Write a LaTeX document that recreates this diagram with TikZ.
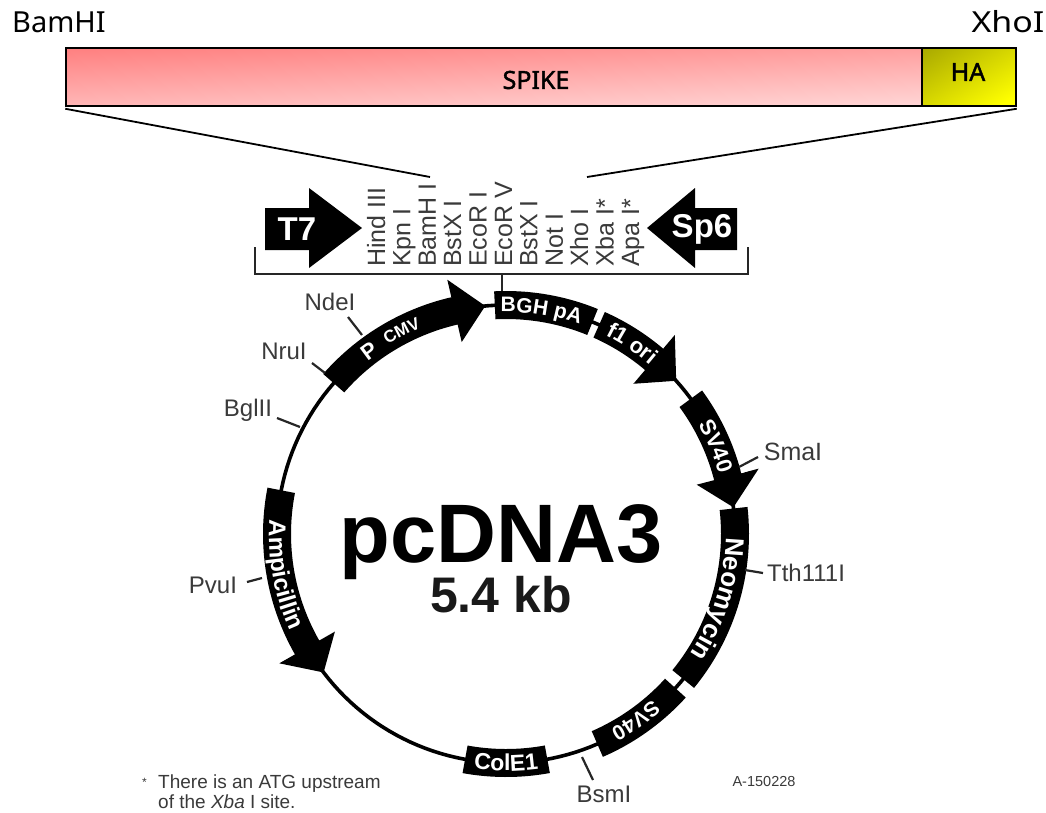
\documentclass[tikz,border=0pt]{standalone}
\usepackage{fontspec}
\setmainfont{Liberation Sans}
\newfontfamily\topfont{Noto Sans}
\newfontfamily\topwide[FakeStretch=1.17]{Noto Sans}
\newfontfamily\topbold[FakeBold=1.6]{Noto Sans}
\usetikzlibrary{decorations.text}
\definecolor{lab}{HTML}{3A3A3A}
\pgfdeclarefunctionalshading{spikeshade}{\pgfpointorigin}{\pgfpoint{100bp}{100bp}}{}{%
  -0.0128 mul exch 0.0072 mul add 0.78 add 0.34 mul 0.5 add dup 1 3 1 roll}
\pgfdeclarefunctionalshading{hashade}{\pgfpointorigin}{\pgfpoint{100bp}{100bp}}{}{%
  sub 0.011 mul 0.55 add 0.341 mul 0.659 add dup 0}
\newcommand{\fs}[1]{\fontsize{#1}{#1}\selectfont}
\newcommand{\cx}{506}
\newcommand{\cy}{534}
% block: a1 a2 (math degrees)
\newcommand{\ringblock}[2]{%
  \fill plot[domain=#1:#2,samples=30] ({\cx+243*cos(\x)},{\cy-243*sin(\x)})
     -- plot[domain=#2:#1,samples=30] ({\cx+215*cos(\x)},{\cy-215*sin(\x)}) -- cycle;}
% arrow block: a1 base tip
\newcommand{\ringarrow}[3]{%
  \fill plot[domain=#1:#2,samples=30] ({\cx+243*cos(\x)},{\cy-243*sin(\x)})
     -- ({\cx+261*cos(#2)},{\cy-261*sin(#2)})
     -- ({\cx+229*cos(#3)},{\cy-229*sin(#3)})
     -- ({\cx+197*cos(#2)},{\cy-197*sin(#2)})
     -- plot[domain=#2:#1,samples=30] ({\cx+215*cos(\x)},{\cy-215*sin(\x)}) -- cycle;}
% text on ring: a1 a2 radius size text
\newcommand{\ringtext}[5]{%
  \path[decorate,decoration={text along path,text align=center,
      text format delimiters={|}{|},text={|\fs{#4}\bfseries\color{white}|#5}}]
    plot[domain=#1:#2,samples=40] ({\cx+#3*cos(\x)},{\cy-#3*sin(\x)});}
\tikzset{
  site/.style={color=lab,font=\fs{24},inner sep=0pt},
  enz/.style={color=lab,font=\fs{25},inner sep=0pt,rotate=90,anchor=base west},
  tick/.style={line width=2.2pt,color=black!85},
  zoomline/.style={line width=1.8pt},
  toplabel/.style={font=\topfont\fs{29},inner sep=0pt},
  toptext/.style={font=\topbold\fs{25},inner sep=0pt},
  gene/.style={draw=black,line width=1.5pt,inner sep=0pt,shade,shading angle=0}
}
\begin{document}
\begin{tikzpicture}[x=1pt,y=-1pt]
\useasboundingbox (0,0) rectangle (1046,812);
% top construct
\node[toplabel] (bam) at (59,22) {BamHI};
\node[toplabel,font=\topwide\fs{29}] (xho) at (1008,22) {XhoI};
\node[gene,shading=spikeshade,minimum width=856pt,minimum height=58pt] (spike) at (494,77) {};
\node[gene,shading=hashade,minimum width=94pt,minimum height=58pt] (ha) at (969,77) {};
\node[toptext] (spiket) at (536,80) {SPIKE};
\node[toptext] (hat) at (968,72) {HA};
\coordinate (zl) at (430,177);
\coordinate (zr) at (587,177);
\draw[zoomline] ([yshift=-2pt]spike.south west) -- (zl);
\draw[zoomline] ([yshift=-2pt]ha.south east) -- (zr);
% T7 and Sp6
\fill (265,208) -- (309,208) -- (309,188) -- (362,228) -- (309,268) -- (309,250) -- (265,250) -- cycle;
\fill (737,208) -- (695,208) -- (695,188) -- (647,228) -- (695,268) -- (695,250) -- (737,250) -- cycle;
\node[color=white,font=\bfseries\fs{33},inner sep=0pt] (t7) at (297,229) {T7};
\node[color=white,font=\bfseries\fs{33},inner sep=0pt] (sp6) at (702,229) {Sp6};
% MCS
\node[enz] (e1) at (385,267) {Hind III};
\node[enz] (e2) at (410.4,267) {Kpn I};
\node[enz] (e3) at (435.8,267) {BamH I};
\node[enz] (e4) at (461.2,267) {BstX I};
\node[enz] (e5) at (486.6,267) {EcoR I};
\node[enz] (e6) at (512,267) {EcoR V};
\node[enz] (e7) at (537.4,267) {BstX I};
\node[enz] (e8) at (562.8,267) {Not I};
\node[enz] (e9) at (588.2,267) {Xho I};
\node[enz] (e10) at (613.6,267) {Xba I*};
\node[enz] (e11) at (639,267) {Apa I*};
\draw[line width=2.4pt,color=black!85] (255,247) -- (255,274) -- (748,274) -- (748,247);
\draw[line width=2.4pt,color=black!85] (502,274) -- (502,293);
% ring
\draw[line width=3.6pt] plot[domain=0:360,samples=180] ({\cx+229*cos(\x)},{\cy-229*sin(\x)});
\ringarrow{138.8}{103}{95.2}
\ringblock{92.8}{67.8}
\ringarrow{66}{49.7}{42}
\ringarrow{36.2}{14.5}{6.7}
\ringblock{6.4}{-39.3}
\ringblock{-42.3}{-66.5}
\ringblock{-79.6}{-100.3}
\ringarrow{169}{209.7}{217.2}
% ring labels
\ringtext{136.8}{116.8}{221}{22}{P}
\ringtext{130}{104.4}{223}{17}{CMV}
\ringtext{96}{66}{222}{21}{BGH pA}
\ringtext{70}{43}{222}{22}{f1 ori}
\ringtext{40}{5.4}{221}{22}{SV40}
\ringtext{15}{-49}{220}{26}{Neomycin}
\ringtext{-35}{-75.4}{221}{21}{SV40}
\ringtext{-110}{-70}{237}{23}{ColE1}
\ringtext{160}{220.8}{237}{24}{Ampicillin}
% centre
\node[font=\bfseries\fs{83},inner sep=0pt,anchor=base] (name) at (501,562) {pcDNA3};
\node[font=\bfseries\fs{50},inner sep=0pt,anchor=base,color=black!90] (size) at (501,612) {5.4 kb};
% sites
\node[site] (nde) at (330,302) {NdeI};
\node[site] (nru) at (284,351) {NruI};
\node[site] (bgl) at (248,410) {BglII};
\node[site,font=\fs{25}] (sma) at (793,452) {SmaI};
\node[site] (tth) at (806,573) {Tth111I};
\node[site] (pvu) at (213,585) {PvuI};
\node[site] (bsm) at (604,794) {BsmI};
\coordinate (tnde1) at (348,317); \coordinate (tnde2) at (362,335);
\coordinate (tnru1) at (312,363); \coordinate (tnru2) at (325,373);
\coordinate (tbgl1) at (277,418); \coordinate (tbgl2) at (300,427);
\coordinate (tsma1) at (739,467); \coordinate (tsma2) at (758,457);
\coordinate (tsmw1) at (741,472); \coordinate (tsmw2) at (756,467);
\coordinate (ttth1) at (745,570); \coordinate (ttth2) at (763,573);
\coordinate (tpvu1) at (247,582); \coordinate (tpvu2) at (262,578);
\coordinate (tbsm1) at (582,757); \coordinate (tbsm2) at (593,780);
\draw[tick] (tnde1) -- (tnde2);
\draw[tick] (tnru1) -- (tnru2);
\draw[tick] (tbgl1) -- (tbgl2);
\draw[line width=2.6pt,white] (tsmw1) -- (tsmw2);
\draw[tick] (tsma1) -- (tsma2);
\draw[tick] (ttth1) -- (ttth2);
\draw[tick] (tpvu1) -- (tpvu2);
\draw[tick] (tbsm1) -- (tbsm2);
% footnote
\node[color=lab,font=\fs{12},inner sep=0pt,anchor=base west] (star) at (142,786) {*};
\node[color=lab,font=\fs{19},inner sep=0pt,anchor=base west] (note1) at (158,788) {There is an ATG upstream};
\node[color=lab,font=\fs{19},inner sep=0pt,anchor=base west] (note2) at (158,808) {of the \textit{Xba} I site.};
\node[color=lab,font=\fs{14.5},inner sep=0pt] (code) at (764,781) {A-150228};
\end{tikzpicture}
\end{document}
